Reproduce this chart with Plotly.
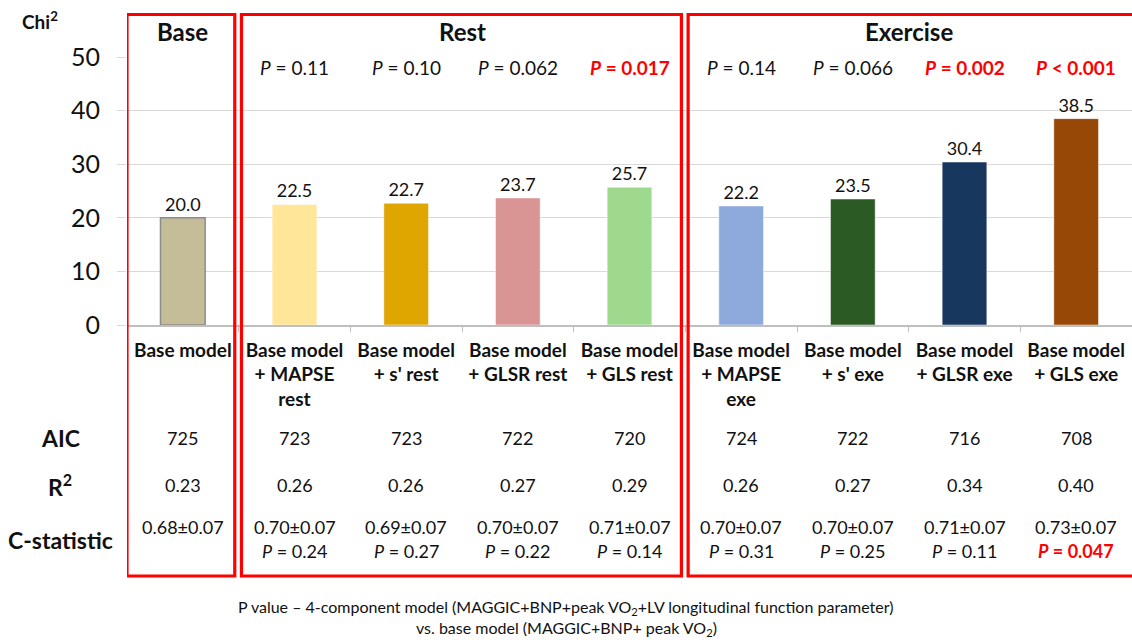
import plotly.graph_objects as go

# ---------------- data ----------------
categories = [
    "Base model", "Base model + MAPSE rest", "Base model + s' rest",
    "Base model + GLSR rest", "Base model + GLS rest",
    "Base model + MAPSE exe", "Base model + s' exe",
    "Base model + GLSR exe", "Base model + GLS exe",
]
tick_labels = [
    "Base model", "Base model<br>+ MAPSE<br>rest", "Base model<br>+ s' rest",
    "Base model<br>+ GLSR rest", "Base model<br>+ GLS rest",
    "Base model<br>+ MAPSE<br>exe", "Base model<br>+ s' exe",
    "Base model<br>+ GLSR exe", "Base model<br>+ GLS exe",
]
chi2 = [20.0, 22.5, 22.7, 23.7, 25.7, 22.2, 23.5, 30.4, 38.5]
bar_colors = ["#C4BD97", "#FFE699", "#DFA600", "#D99594", "#9FD98E",
              "#8EA9DB", "#2B5A25", "#17375E", "#974807"]
p_vs_base = [None, "= 0.11", "= 0.10", "= 0.062", "= 0.017",
             "= 0.14", "= 0.066", "= 0.002", "< 0.001"]
p_vs_base_sig = [False, False, False, False, True, False, False, True, True]
aic = ["725", "723", "723", "722", "720", "724", "722", "716", "708"]
r2 = ["0.23", "0.26", "0.26", "0.27", "0.29", "0.26", "0.27", "0.34", "0.40"]
c_stat = ["0.68±0.07", "0.70±0.07", "0.69±0.07", "0.70±0.07", "0.71±0.07",
          "0.70±0.07", "0.70±0.07", "0.71±0.07", "0.73±0.07"]
c_p = [None, "= 0.24", "= 0.27", "= 0.22", "= 0.14", "= 0.31", "= 0.25", "= 0.11", "= 0.047"]
c_p_sig = [False, False, False, False, False, False, False, False, True]
row_labels = ["AIC", "R<sup>2</sup>", "C-statistic"]
groups = ["Base", "Rest", "Exercise"]
group_first = [0, 1, 5]
group_last = [0, 4, 8]
footnote = ["P value – 4-component model (MAGGIC+BNP+peak VO<sub>2</sub>+LV longitudinal function parameter)",
            "vs. base model (MAGGIC+BNP+ peak VO<sub>2</sub>)"]

# ---------------- layout helpers ----------------
W, H = 1132, 640
L, R, T, B = 127, 0, 57, 315
FONT = "Lato, 'Open Sans', sans-serif"
RED = "#FF0000"
TXT = "#111111"


def py(p):
    return (H - B - p) / (H - T - B)


def px(p):
    return (p - L) / (W - L - R)


def note(x, y, text, size, color=TXT, xref="x"):
    return dict(x=x, xref=xref, y=y, yref="paper", text=text, showarrow=False,
                xanchor="center", yanchor="middle",
                font=dict(size=size, color=color, family=FONT))


fig = go.Figure()
fig.add_trace(go.Bar(
    x=categories, y=chi2,
    marker=dict(color=bar_colors,
                line=dict(color=["#8C8C8C"] + ["rgba(255,255,255,0.6)"] * 8,
                          width=[1.5] + [0.8] * 8)),
    texttemplate="%{y:.1f}", textposition="outside",
    textfont=dict(size=18, color=TXT, family=FONT),
    cliponaxis=False, showlegend=False, hoverinfo="skip",
))

ann = []
# P values vs base at top
for i, cat in enumerate(categories):
    if p_vs_base[i] is None:
        continue
    if p_vs_base_sig[i]:
        ann.append(note(cat, py(67), f"<b><i>P</i> {p_vs_base[i]}</b>", 19, RED))
    else:
        ann.append(note(cat, py(67), f"<i>P</i> {p_vs_base[i]}", 19))

# table rows
for i, cat in enumerate(categories):
    ann.append(note(cat, py(438), aic[i], 18))
    ann.append(note(cat, py(485), r2[i], 18))
    ann.append(note(cat, py(527), c_stat[i], 18))
    if c_p[i] is not None:
        if c_p_sig[i]:
            ann.append(note(cat, py(551), f"<b><i>P</i> {c_p[i]}</b>", 18, RED))
        else:
            ann.append(note(cat, py(551), f"<i>P</i> {c_p[i]}", 18))

# row labels
for lab, yy in zip(row_labels, [438, 485, 540]):
    ann.append(note(px(60), py(yy), f"<b>{lab}</b>", 23, xref="paper"))

# Chi2 axis title
ann.append(note(px(40), py(20), "<b>Chi<sup>2</sup></b>", 19, xref="paper"))

# group titles and boxes
shapes = []
box_top, box_bot = py(14.5), py(576)
for g, a, b in zip(groups, group_first, group_last):
    left = a - 0.5 + (0.0 if a == 0 else 0.025)
    right = b + 0.5 - (0.035 if b < len(categories) - 1 else -0.2)
    shapes.append(dict(type="rect", xref="x", yref="paper", x0=left, x1=right,
                       y0=box_bot, y1=box_top, line=dict(color=RED, width=3.2),
                       fillcolor="rgba(0,0,0,0)", layer="above"))
    ann.append(note((a + b) / 2, py(32), f"<b>{g}</b>", 24))

# footnote
for line, yy in zip(footnote, [607, 629]):
    ann.append(note(px(566), py(yy), line, 16, xref="paper"))

fig.update_layout(
    width=W, height=H,
    margin=dict(l=L, r=R, t=T, b=B),
    paper_bgcolor="white", plot_bgcolor="white",
    bargap=0.6,
    font=dict(family=FONT, color=TXT),
    annotations=ann, shapes=shapes,
    xaxis=dict(
        type="category", categoryorder="array", categoryarray=categories,
        tickmode="array", tickvals=categories,
        ticktext=[f"<b>{t}</b>" for t in tick_labels],
        tickfont=dict(size=19, color=TXT, family=FONT),
        range=[-0.5, 8.5], automargin=False,
        showline=True, linecolor="#BFBFBF", linewidth=1.5,
        ticks="outside", tickson="boundaries", ticklen=5, tickcolor="#BFBFBF",
        ticklabelstandoff=7,
        showgrid=False,
    ),
    yaxis=dict(
        range=[0, 50], dtick=10, tick0=0, automargin=False,
        showgrid=True, gridcolor="#D9D9D9", gridwidth=1,
        zeroline=False, showline=False,
        ticks="outside", ticklen=9, tickcolor="#D9D9D9",
        tickfont=dict(size=25, color=TXT, family=FONT),
        ticklabelstandoff=12,
    ),
)

fig.write_html(
    "out.html",
    config={"displayModeBar": False},
    post_script="document.body.style.margin='0';document.body.style.overflow='hidden';",
)
